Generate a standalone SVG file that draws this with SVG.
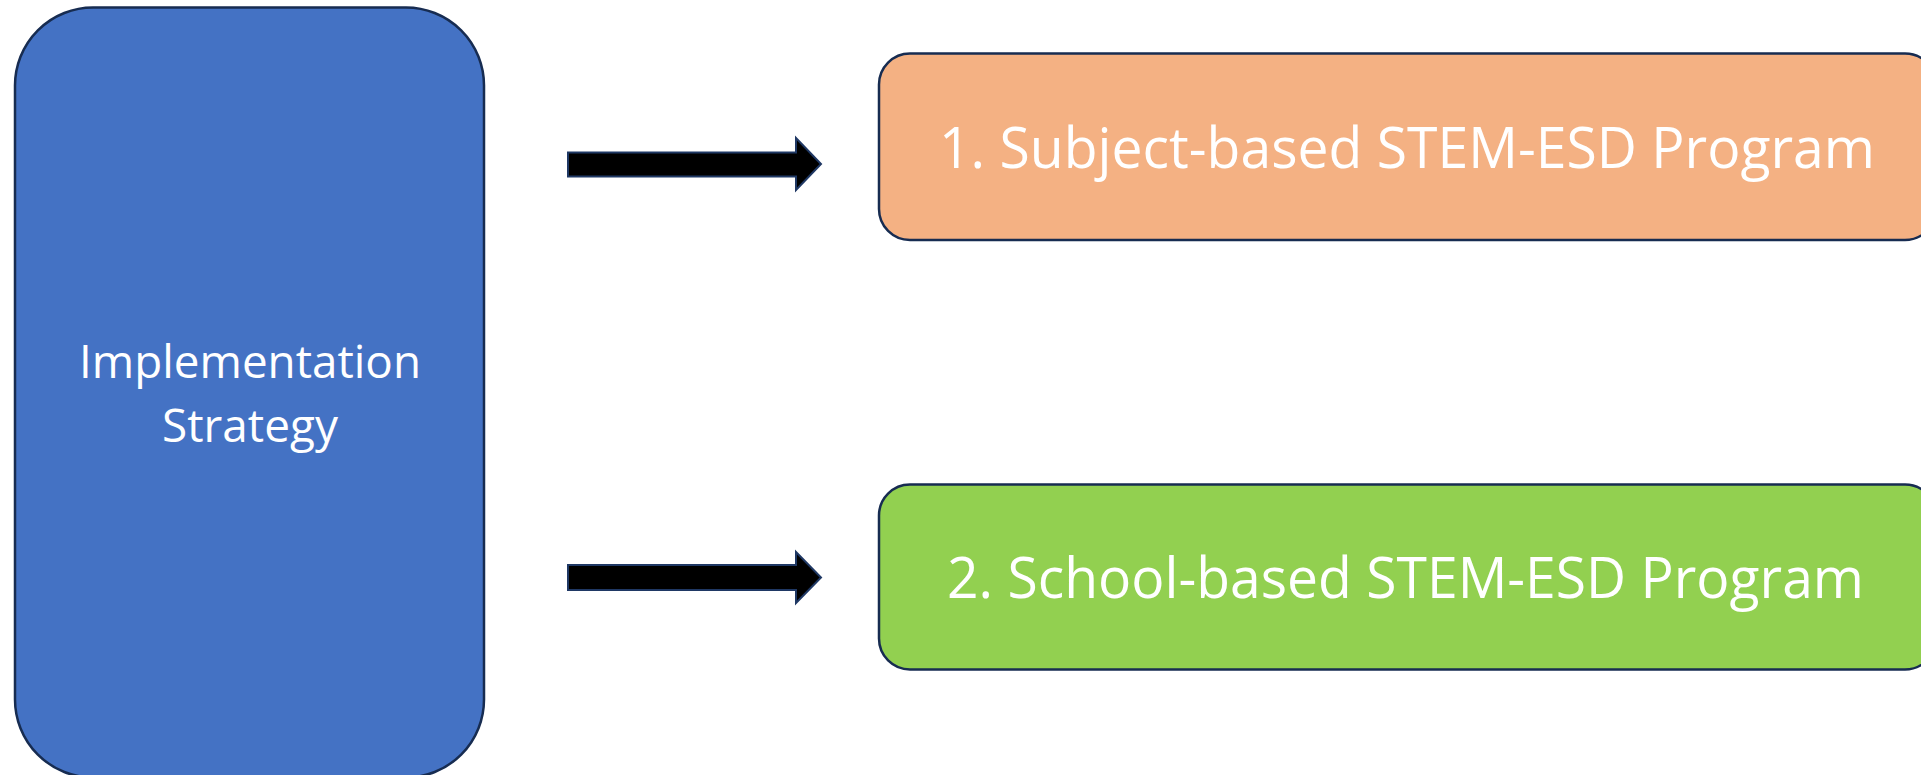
<svg xmlns="http://www.w3.org/2000/svg" width="1921" height="775" viewBox="0 0 1921 775">
<style>
.box{stroke:#172C51;stroke-width:2.5}
.lbl{font-family:"Open Sans","Noto Sans","Liberation Sans",sans-serif;fill:#FFFFFF;text-anchor:middle}
.arrow{fill:#000000;stroke:#1F3864;stroke-width:2;stroke-linejoin:miter}
</style>
<rect width="1921" height="775" fill="#FFFFFF"/>
<g id="node-strategy">
<rect class="box" x="15" y="7.5" width="469" height="770" rx="78" ry="78" fill="#4472C4"/>
<text class="lbl" x="250" y="378" font-size="45" textLength="342" lengthAdjust="spacingAndGlyphs">Implementation</text>
<text class="lbl" x="250" y="442" font-size="45" textLength="176" lengthAdjust="spacingAndGlyphs">Strategy</text>
</g>
<g id="node-subject">
<rect class="box" x="879" y="53.5" width="1057" height="186.5" rx="31" ry="31" fill="#F4B183"/>
<text class="lbl" x="1407" y="168" font-size="57" textLength="936" lengthAdjust="spacingAndGlyphs">1. Subject-based STEM-ESD Program</text>
</g>
<g id="node-school">
<rect class="box" x="879" y="484.5" width="1057" height="185" rx="31" ry="31" fill="#92D050"/>
<text class="lbl" x="1405.5" y="598" font-size="57" textLength="917" lengthAdjust="spacingAndGlyphs">2. School-based STEM-ESD Program</text>
</g>
<g id="connectors">
<polygon class="arrow" points="568,152.5 796,152.5 796,138 821,164 796,190 796,176.5 568,176.5"/>
<polygon class="arrow" points="568,565 796,565 796,552 821,577.5 796,603 796,590 568,590"/>
</g>
</svg>
